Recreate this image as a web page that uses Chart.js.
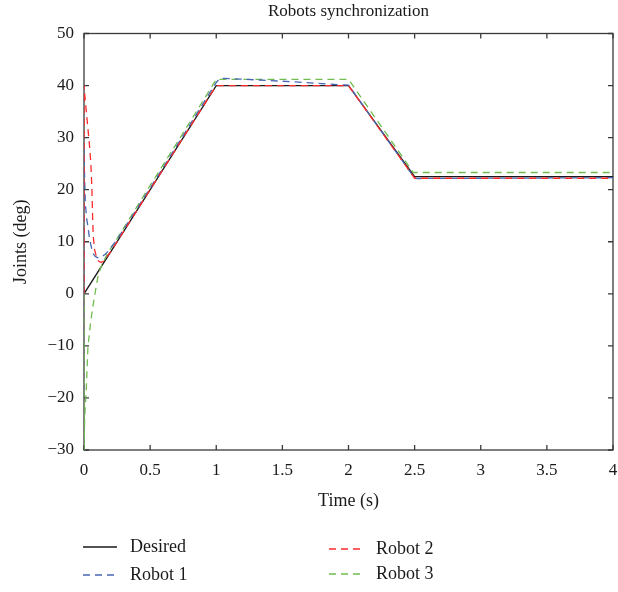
<!DOCTYPE html>
<html>
<head>
<meta charset="utf-8">
<script src="https://cdn.jsdelivr.net/npm/chart.js@4/dist/chart.umd.min.js"></script>
<style>
  html, body { margin: 0; padding: 0; background: #fff; }
  #wrap { width: 618px; height: 592px; }
</style>
</head>
<body>
<div id="wrap"><canvas id="grafico" width="618" height="592"></canvas></div>
<script>
// dados (tempo em s, juntas em graus)
const desiredT = [0, 1, 2, 2.5, 4];
const desiredY = [0, 40, 40, 22.5, 22.5];

const robot1T = [0, 0, 0.005, 0.01, 0.02, 0.03, 0.04, 0.05, 0.065, 0.08, 0.1, 0.12, 0.14, 0.16, 0.18, 0.25, 0.5, 0.75, 1.0, 1.03, 1.3, 1.6, 1.9, 2.0, 2.5, 2.52, 4];
const robot1Y = [0, 28, 22, 17.5, 14.5, 12.9, 11, 9.6, 8, 7.3, 6.95, 6.9, 7.2, 7.6, 8.1, 10.4, 20.3, 30.4, 40.6, 41.4, 41.1, 40.7, 40.2, 40.1, 22.2, 22.15, 22.3];

const robot2T = [0, 0, 0.01, 0.025, 0.04, 0.052, 0.06, 0.065, 0.07, 0.08, 0.095, 0.11, 0.13, 0.15, 0.17, 0.2, 0.5, 1, 2, 2.5, 4];
const robot2Y = [0, 40, 37, 33, 29, 25, 20, 15, 11, 8.5, 7, 6.3, 6.0, 6.3, 7, 8, 20, 40, 40, 22.2, 22.2];

const robot3T = [0, 0, 0.005, 0.017, 0.03, 0.05, 0.065, 0.085, 0.106, 0.125, 0.144, 0.18, 0.25, 0.5, 0.75, 1.0, 2.0, 2.49, 4];
const robot3Y = [0, -30, -24, -18.4, -10.1, -5.5, -2.8, 0.3, 3.4, 4.9, 6.0, 7.9, 10.6, 20.8, 30.9, 41.2, 41.2, 23.3, 23.3];

const seriesNames = ['Desired', 'Robot 1', 'Robot 2', 'Robot 3'];
const seriesColors = ['#1a1a1a', '#4a66b4', '#ff2a2a', '#70bc50'];

const xTicks = [0, 0.5, 1, 1.5, 2, 2.5, 3, 3.5, 4];
const yTicks = [-30, -20, -10, 0, 10, 20, 30, 40, 50];

const chartTitle = 'Robots synchronization';
const serif = "'Liberation Serif', 'DejaVu Serif', serif";

function pts(t, y) {
    return t.map((v, i) => ({ x: v, y: y[i] }));
}

function serie(i, t, y, dashed, order) {
    return {
        label: seriesNames[i],
        data: pts(t, y),
        borderColor: seriesColors[i],
        borderWidth: 1.3,
        borderDash: dashed ? [7, 5] : [],
        pointRadius: 0,
        tension: 0,
        fill: false,
        order: order
    };
}

// caixa com marcas de escala para dentro + título centrado no gráfico
const boxPlugin = {
    id: 'boxTicks',
    beforeDatasetsDraw(chart) {
        const { ctx, chartArea: a, scales } = chart;
        ctx.save();
        ctx.strokeStyle = '#3a3a3a';
        ctx.lineWidth = 1.3;
        ctx.strokeRect(a.left, a.top, a.right - a.left, a.bottom - a.top);
        ctx.beginPath();
        const L = 5;
        xTicks.forEach(v => {
            const px = scales.x.getPixelForValue(v);
            ctx.moveTo(px, a.bottom); ctx.lineTo(px, a.bottom - L);
            ctx.moveTo(px, a.top); ctx.lineTo(px, a.top + L);
        });
        yTicks.forEach(v => {
            const py = scales.y.getPixelForValue(v);
            ctx.moveTo(a.left, py); ctx.lineTo(a.left + L, py);
            ctx.moveTo(a.right, py); ctx.lineTo(a.right - L, py);
        });
        ctx.stroke();

        ctx.fillStyle = '#1a1a1a';
        ctx.font = '17px ' + serif;
        ctx.textAlign = 'center';
        ctx.textBaseline = 'middle';
        ctx.fillText(chartTitle, (a.left + a.right) / 2, 12);
        ctx.restore();
    }
};

// legenda em duas colunas
const legendPlugin = {
    id: 'twoColLegend',
    afterDraw(chart) {
        const ctx = chart.ctx;
        ctx.save();
        ctx.font = '18px ' + serif;
        ctx.textBaseline = 'middle';
        ctx.textAlign = 'left';
        const cols = [83, 329];
        const rows = [[547, 575], [549, 574]];
        chart.data.datasets.forEach((ds, i) => {
            const c = i < 2 ? 0 : 1;
            const r = i % 2;
            const x0 = cols[c];
            const y0 = rows[c][r];
            ctx.strokeStyle = ds.borderColor;
            ctx.lineWidth = 1.3;
            ctx.setLineDash(ds.borderDash.length ? [7, 5] : []);
            ctx.beginPath();
            ctx.moveTo(x0, y0);
            ctx.lineTo(x0 + 34, y0);
            ctx.stroke();
            ctx.setLineDash([]);
            ctx.fillStyle = '#1a1a1a';
            ctx.fillText(ds.label, x0 + 47, y0);
        });
        ctx.restore();
    }
};

const ctx = document.querySelector('#grafico').getContext('2d');
const lineChart = new Chart(ctx, {
    type: 'line',
    data: {
        datasets: [
            serie(0, desiredT, desiredY, false, 4),
            serie(1, robot1T, robot1Y, true, 2),
            serie(2, robot2T, robot2Y, true, 1),
            serie(3, robot3T, robot3Y, true, 3)
        ]
    },
    options: {
        responsive: false,
        animation: false,
        layout: { padding: { left: 0, right: 5, top: 33.5, bottom: 80 } },
        plugins: {
            legend: { display: false },
            tooltip: { enabled: false },
            title: { display: false }
        },
        scales: {
            x: {
                type: 'linear',
                min: 0,
                max: 4,
                afterBuildTicks: s => { s.ticks = xTicks.map(v => ({ value: v })); },
                afterFit: s => { s.height = 62; s.paddingLeft = 0; s.paddingRight = 0; },
                grid: { display: false, drawTicks: false },
                border: { display: false },
                ticks: {
                    color: '#1a1a1a',
                    padding: 10,
                    maxRotation: 0,
                    font: { family: serif, size: 17 },
                    callback: v => String(v)
                },
                title: {
                    display: true,
                    text: 'Time (s)',
                    color: '#1a1a1a',
                    font: { family: serif, size: 18 },
                    padding: { top: 0, bottom: 0 }
                }
            },
            y: {
                min: -30,
                max: 50,
                afterBuildTicks: s => { s.ticks = yTicks.map(v => ({ value: v })); },
                afterFit: s => { s.width = 84; s.paddingTop = 0; s.paddingBottom = 0; },
                grid: { display: false, drawTicks: false },
                border: { display: false },
                ticks: {
                    color: '#1a1a1a',
                    padding: 10,
                    font: { family: serif, size: 17 },
                    callback: v => v < 0 ? '\u2212' + Math.abs(v) : String(v)
                },
                title: {
                    display: true,
                    text: 'Joints (deg)',
                    color: '#1a1a1a',
                    font: { family: serif, size: 18 },
                    padding: { top: 10, bottom: 0 }
                }
            }
        }
    },
    plugins: [boxPlugin, legendPlugin]
});
</script>
</body>
</html>
